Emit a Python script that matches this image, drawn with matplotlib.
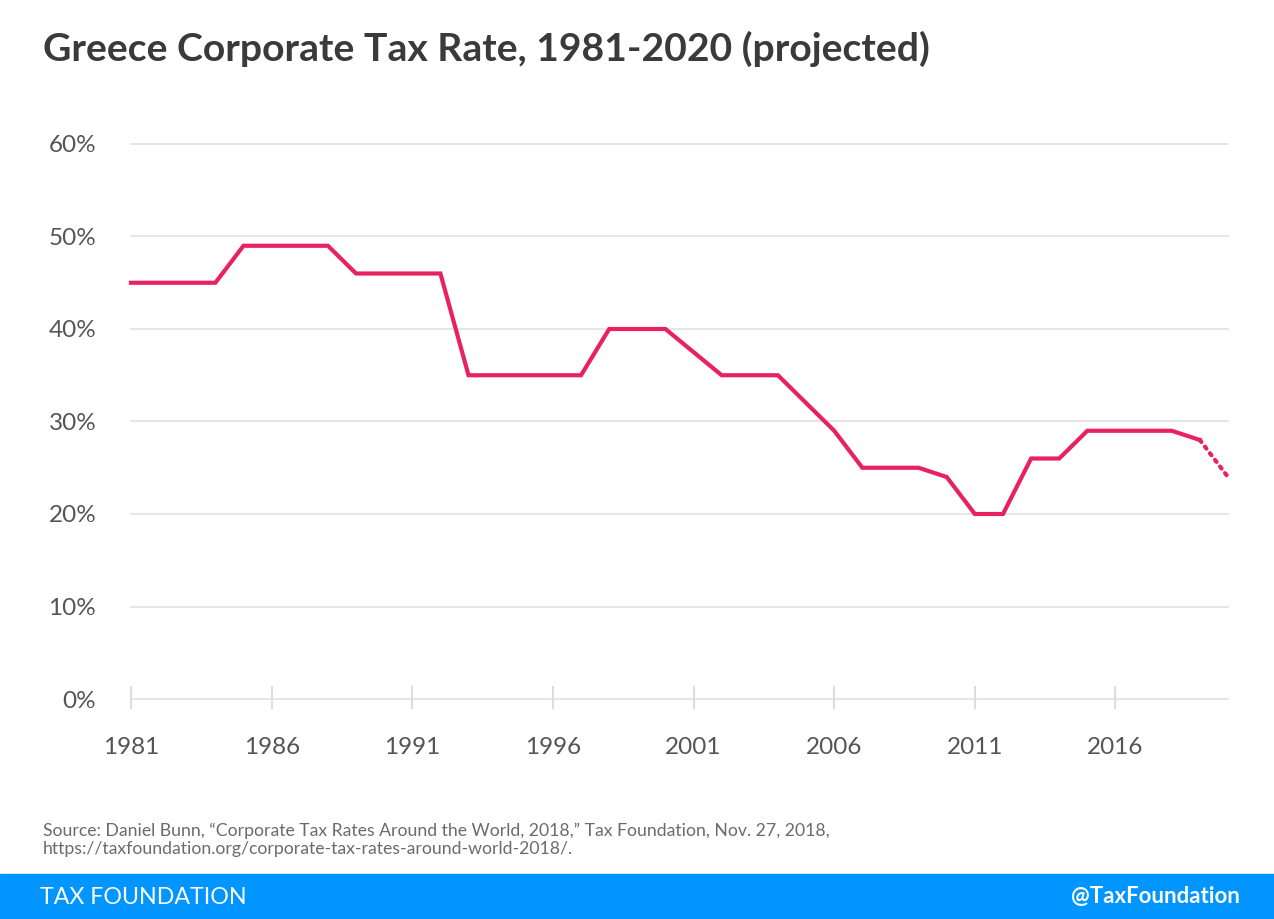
import matplotlib
matplotlib.use("Agg")
import matplotlib.pyplot as plt

years = list(range(1981, 2021))
rates = [45, 45, 45, 45, 49, 49, 49, 49, 46, 46, 46, 46, 35, 35, 35, 35, 35,
         40, 40, 40, 37.5, 35, 35, 35, 32, 29, 25, 25, 25, 24, 20, 20, 26, 26,
         29, 29, 29, 29, 28, 24]
proj_start = 2019

xticks = [1981, 1986, 1991, 1996, 2001, 2006, 2011, 2016]
yticks = [0, 10, 20, 30, 40, 50, 60]
ylabels = ["0%", "10%", "20%", "30%", "40%", "50%", "60%"]

title = "Greece Corporate Tax Rate, 1981-2020 (projected)"
source = ("Source: Daniel Bunn, \u201cCorporate Tax Rates Around the World, 2018,\u201d Tax Foundation, Nov. 27, 2018,\n"
          "https://taxfoundation.org/corporate-tax-rates-around-world-2018/.")

plt.rcParams['font.family'] = ['Lato', 'DejaVu Sans']

W, H = 1274, 919
fig = plt.figure(figsize=(W / 100, H / 100), dpi=100)
ax = fig.add_axes([131 / W, 1 - 699 / H, (1228 - 131) / W, (699 - 144) / H])

line_color = "#e8215f"
i = years.index(proj_start)
ax.plot(years[:i + 1], rates[:i + 1], color=line_color, lw=3.0, solid_joinstyle='miter', clip_on=False, zorder=3)
ax.plot(years[i:], rates[i:], color=line_color, lw=3.0, ls=(0, (0.6, 1.4)), dash_capstyle='round', clip_on=False, zorder=3)

ax.set_xlim(1981, 2020)
ax.set_ylim(0, 60)
for s in ax.spines.values():
    s.set_visible(False)
ax.set_yticks(yticks)
ax.set_yticklabels(ylabels)
for y in yticks:
    ax.axhline(y, color="#e1e1e1", lw=1.2, zorder=1, clip_on=False)
ax.set_xticks(xticks)
ax.set_xticklabels([str(x) for x in xticks])
ax.tick_params(axis='y', length=0, pad=25, labelsize=17.5, labelcolor="#555555")
ax.tick_params(axis='x', length=0, pad=27.5, labelsize=17.5, labelcolor="#555555")
for x in xticks:
    ax.plot([x, x], [-1.0, 1.3], color="#dddddd", lw=1.5, clip_on=False, zorder=1)

fig.text(43 / W, 1 - 49 / H, title, fontsize=28.2, fontweight='bold', color="#3a3a3a", va='center', ha='left')
fig.text(43 / W, 1 - 840 / H, source, fontsize=12.7, color="#6b6b6b", va='center', ha='left', linespacing=1.2)

band = plt.Rectangle((0, 0), 1, 45 / H, transform=fig.transFigure, color="#0095ff", zorder=0)
fig.patches.append(band)
fig.text(40 / W, 1 - 897 / H, "TAX FOUNDATION", fontsize=16.7, color="white", va='center', ha='left')
fig.text(1240 / W, 1 - 897 / H, "@TaxFoundation", fontsize=16, fontweight='bold', color="white", va='center', ha='right')

fig.savefig("out.png", dpi=100)
